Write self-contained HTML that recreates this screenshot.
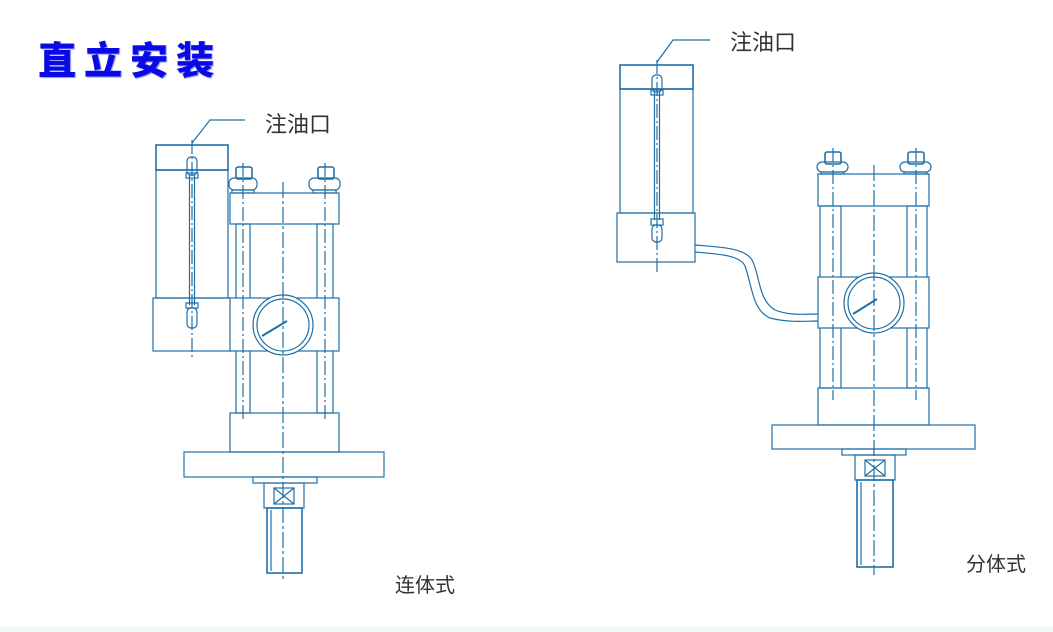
<!DOCTYPE html>
<html><head><meta charset="utf-8"><style>
html,body{margin:0;padding:0;background:#fff}
body{width:1053px;height:632px;position:relative;overflow:hidden}
.t{position:absolute;font-family:"Liberation Sans","Noto Sans CJK SC",sans-serif;color:#333;white-space:nowrap;line-height:1}
</style></head><body>
<div style="position:absolute;left:0;top:627px;width:1053px;height:5px;background:#f0fbf7"></div>
<div class="t" style="left:38px;top:39px;font-size:38px;font-weight:900;color:#0a0ae6;letter-spacing:8px;font-family:'Noto Sans CJK SC',sans-serif;text-shadow:1px 1px 1px #9090f0,0.6px 0 0 #0a0ae6">直立安装</div>
<div class="t" style="left:265px;top:114px;font-size:22px">注油口</div>
<div class="t" style="left:730px;top:32px;font-size:22px">注油口</div>
<div class="t" style="left:395px;top:576px;font-size:20px">连体式</div>
<div class="t" style="left:966px;top:555px;font-size:20px">分体式</div>
<svg width="1053" height="632" style="position:absolute;left:0;top:0" fill="none" stroke="#1f6fa8" stroke-width="1.2">
<!-- LEFT -->
<g>
<path d="M192 143 L210 120 L245 120"/>
<rect x="156" y="145" width="72" height="25" stroke-width="1.6"/>
<rect x="156" y="170" width="72" height="128"/>
<rect x="153" y="298" width="78" height="53"/>
<line x1="192" y1="140" x2="192" y2="357" stroke-dasharray="14 3 2 3"/>
<line x1="189.5" y1="175" x2="189.5" y2="305"/><line x1="194.5" y1="175" x2="194.5" y2="305"/>
<rect x="187" y="157" width="10" height="18" rx="4"/><rect x="186" y="173" width="12" height="5"/>
<rect x="186" y="303" width="12" height="5"/><rect x="187" y="308" width="10" height="20" rx="4"/>
<rect x="230" y="193" width="109" height="31"/>
<rect x="236" y="224" width="14" height="189"/><rect x="317" y="224" width="16" height="189"/>
<rect x="230" y="298" width="109" height="53" fill="#fff"/>
<rect x="230" y="413" width="109" height="39"/>
<rect x="184" y="452" width="200" height="25"/>
<rect x="253" y="477" width="64" height="6"/>
<rect x="264" y="483" width="40" height="25"/>
<path d="M274 488 L294 504 M294 488 L274 504"/><rect x="274" y="488" width="20" height="16"/>
<rect x="267" y="508" width="35" height="65" stroke-width="1.6"/><line x1="271" y1="510" x2="271" y2="571"/>
<circle cx="283" cy="325" r="30" fill="#fff"/><circle cx="283" cy="325" r="26"/>
<path d="M262 336 L287 321" stroke-width="2"/>
<rect x="236" y="167" width="16" height="12" rx="2" stroke-width="1.6"/><rect x="229" y="178" width="28" height="12" rx="5"/><rect x="232" y="190" width="22" height="3"/>
<rect x="318" y="167" width="16" height="12" rx="2" stroke-width="1.6"/><rect x="309" y="178" width="31" height="12" rx="5"/><rect x="313" y="190" width="23" height="3"/>
<line x1="243" y1="163" x2="243" y2="420" stroke-dasharray="14 3 2 3"/>
<line x1="325" y1="163" x2="325" y2="420" stroke-dasharray="14 3 2 3"/>
<line x1="283" y1="182" x2="283" y2="582" stroke-dasharray="16 3 3 3"/>
</g>
<!-- RIGHT -->
<g>
<path d="M657 62 L673 40 L710 40"/>
<rect x="620" y="65" width="73" height="24" stroke-width="1.6"/>
<rect x="620" y="89" width="73" height="124"/>
<rect x="617" y="213" width="78" height="49"/>
<line x1="657" y1="60" x2="657" y2="272" stroke-dasharray="14 3 2 3"/>
<line x1="654.5" y1="92" x2="654.5" y2="220"/><line x1="659.5" y1="92" x2="659.5" y2="220"/>
<rect x="652" y="75" width="10" height="17" rx="4"/><rect x="651" y="90" width="12" height="5"/>
<rect x="651" y="219" width="12" height="6"/><rect x="652" y="225" width="10" height="17" rx="4"/>
<path d="M695 245 C720 247 745 248 752 260 C760 275 758 300 775 310 C790 316 805 314 818 314"/>
<path d="M695 252 C718 254 740 255 745 266 C752 285 752 310 770 318 C790 323 805 321 818 321"/>
<rect x="818" y="174" width="111" height="32"/>
<rect x="820" y="206" width="21" height="182"/><rect x="907" y="206" width="20" height="182"/>
<rect x="818" y="277" width="111" height="51" fill="#fff"/>
<rect x="818" y="388" width="111" height="37"/>
<rect x="772" y="425" width="203" height="24"/>
<rect x="842" y="449" width="64" height="6"/>
<rect x="855" y="455" width="40" height="25"/>
<path d="M865 460 L885 476 M885 460 L865 476"/><rect x="865" y="460" width="20" height="16"/>
<rect x="857" y="480" width="36" height="87" stroke-width="1.6"/><line x1="861" y1="482" x2="861" y2="565"/>
<circle cx="874" cy="303" r="30" fill="#fff"/><circle cx="874" cy="303" r="26"/>
<path d="M853 314 L877 299" stroke-width="2"/>
<rect x="825" y="152" width="16" height="12" rx="2" stroke-width="1.6"/><rect x="817" y="162" width="31" height="10" rx="5"/><rect x="821" y="172" width="23" height="2"/>
<rect x="908" y="152" width="16" height="12" rx="2" stroke-width="1.6"/><rect x="900" y="162" width="31" height="10" rx="5"/><rect x="904" y="172" width="23" height="2"/>
<line x1="833" y1="148" x2="833" y2="400" stroke-dasharray="14 3 2 3"/>
<line x1="916" y1="148" x2="916" y2="400" stroke-dasharray="14 3 2 3"/>
<line x1="874" y1="165" x2="874" y2="575" stroke-dasharray="16 3 3 3"/>
</g>
</svg>
</body></html>
